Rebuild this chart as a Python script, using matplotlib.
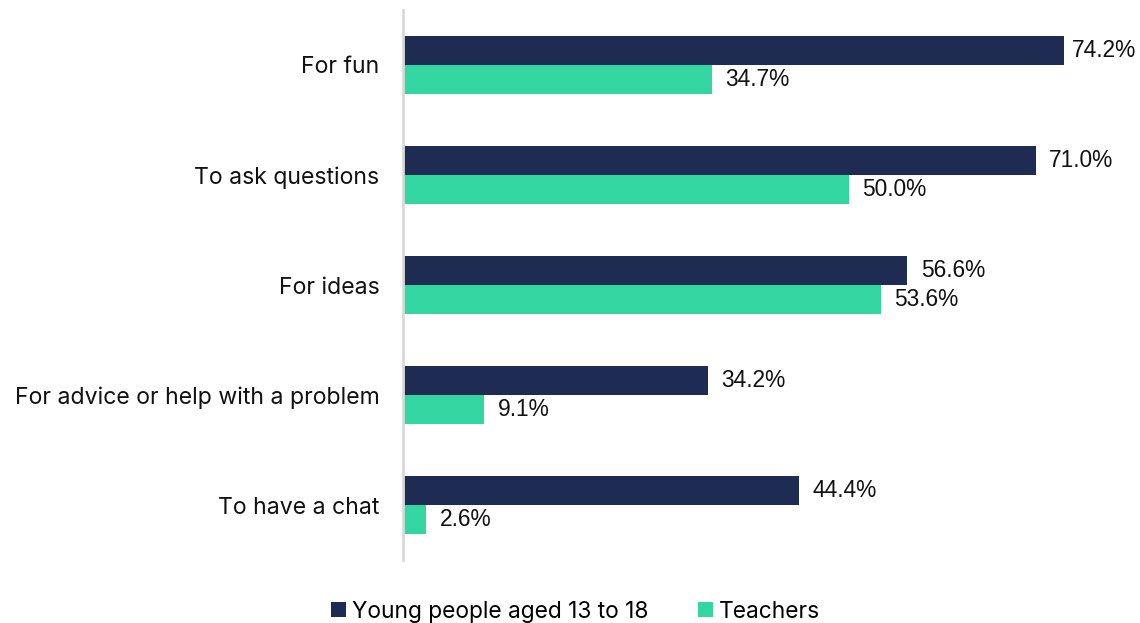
import numpy as np
import matplotlib
matplotlib.use("Agg")
import matplotlib.pyplot as plt
from matplotlib.patches import Patch

categories = ["For fun", "To ask questions", "For ideas",
              "For advice or help with a problem", "To have a chat"]
young = [74.2, 71.0, 56.6, 34.2, 44.4]
teachers = [34.7, 50.0, 53.6, 9.1, 2.6]
series_names = ["Young people aged 13 to 18", "Teachers"]

NAVY = "#1e2b52"
GREEN = "#33d6a0"
XMAX = 82.7

fig = plt.figure(figsize=(11.4, 6.23), dpi=100)
ax = fig.add_axes([0.3535, 0.101, 0.6465, 0.883])

y = np.arange(len(categories))
h = 0.264
b1 = ax.barh(y - h / 2, young, height=h, color=NAVY)
b2 = ax.barh(y + h / 2, teachers, height=h, color=GREEN)

# Werte neben Balken (am rechten Rand etwas enger)
for bars, vals in [(b1, young), (b2, teachers)]:
    for bar, val in zip(bars, vals):
        off = 1.5 if val + 1.5 + 7.3 < XMAX else 0.9
        ax.text(bar.get_width() + off, bar.get_y() + bar.get_height() / 2,
                f"{val:.1f}%", va="center", ha="left", fontsize=16.4,
                family="Liberation Sans", color="#111111")

ax.set_xlim(0, XMAX)
ax.set_ylim(4.5, -0.5)
ax.set_yticks(y)
ax.set_yticklabels(categories, fontsize=16.6, family="Inter", color="#111111")
ax.tick_params(axis="y", length=0, pad=17)
ax.set_xticks([])
for s in ["top", "right", "bottom"]:
    ax.spines[s].set_visible(False)
ax.spines["left"].set_color("#d9d9d9")
ax.spines["left"].set_linewidth(2)

handles = [Patch(facecolor=NAVY, label=series_names[0]),
           Patch(facecolor=GREEN, label=series_names[1])]
fig.legend(handles=handles, loc="center", bbox_to_anchor=(0.505, 0.018),
           ncol=2, frameon=False, prop={"family": "Inter", "size": 16.4},
           handlelength=0.65, handleheight=0.65, handletextpad=0.25,
           columnspacing=2.2)

fig.savefig("out.png", dpi=100)
